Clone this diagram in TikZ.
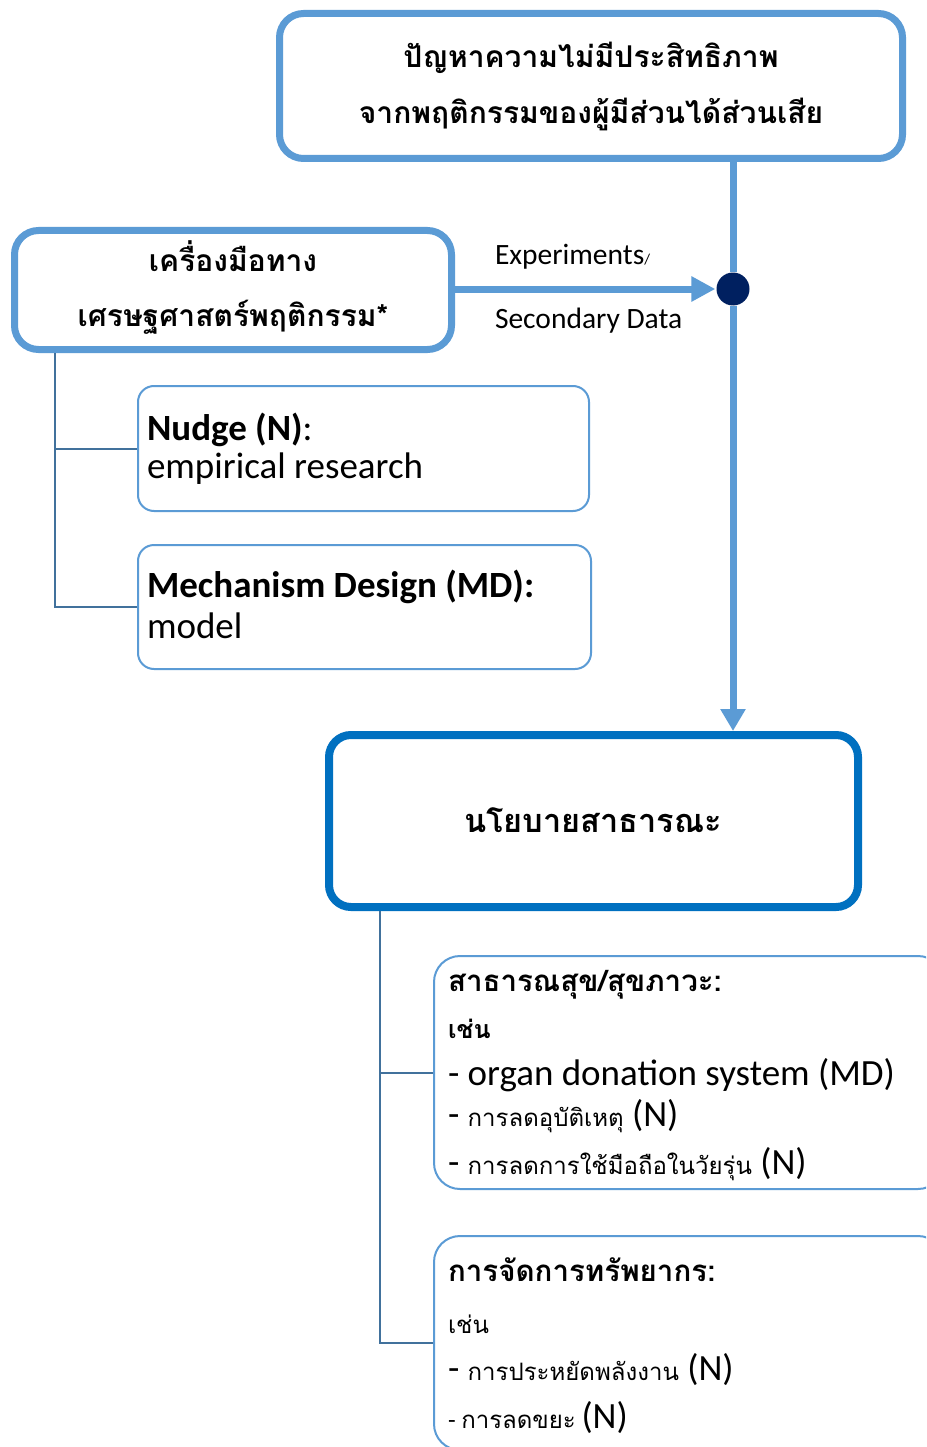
\documentclass[tikz,border=0pt]{standalone}
\usepackage{fontspec}
\setmainfont{Carlito}
\newfontfamily\thai[Script=Thai]{Loma}
\usetikzlibrary{arrows.meta}
\definecolor{lb}{HTML}{5B9BD5}
\definecolor{db}{HTML}{0070C0}
\definecolor{tl}{HTML}{41719C}
\definecolor{nv}{HTML}{002060}
\newcommand\fsz[1]{\fontsize{#1}{#1}\selectfont}
\begin{document}
\begin{tikzpicture}[x=1pt,y=-1pt,
  bigbox/.style={draw=lb, line width=7pt, rounded corners=24pt, fill=white, inner sep=0pt},
  polbox/.style={draw=db, line width=8pt, rounded corners=22pt, fill=white, inner sep=0pt},
  thinbox/.style={draw=lb, line width=2pt, rounded corners=16pt, fill=white, inner sep=0pt},
  listbox/.style={draw=lb, line width=2pt, rounded corners=26pt, fill=white, inner sep=0pt},
  flow/.style={draw=lb, line width=7pt},
  tree/.style={draw=tl, line width=2pt},
  txt/.style={inner sep=0pt, outer sep=0pt, anchor=base west},
  ctxt/.style={inner sep=0pt, outer sep=0pt, anchor=base}]
\useasboundingbox (0,0) rectangle (926,1447);
\clip (0,0) rectangle (926,1447);
\fill[white] (0,0) rectangle (926,1447);

% boxes
\node[bigbox, minimum width=623pt, minimum height=145pt] (top) at (591,86) {};
\node[bigbox, minimum width=437pt, minimum height=119pt] (left) at (233,290) {};
\node[thinbox, minimum width=451pt, minimum height=125pt] (nudge) at (363.5,448.5) {};
\node[thinbox, minimum width=453pt, minimum height=124pt] (md) at (364.5,607) {};
\node[polbox, minimum width=529pt, minimum height=172pt] (pol) at (593.5,821) {};
\node[listbox, minimum width=510pt, minimum height=233pt] (hb) at (689,1072.5) {};
\node[listbox, minimum width=510pt, minimum height=214pt] (rb) at (689,1343) {};

% dot and connectors
\node[circle, fill=nv, inner sep=0pt, minimum size=33pt] (dot) at (733,289) {};
\draw[flow] (top.south -| dot) -- (dot);
\draw[flow, -{Triangle[length=22pt,width=24pt]}] (dot) -- (pol.north -| dot);
\draw[flow, -{Triangle[length=24pt,width=24pt]}, shorten >=1pt] (left.east |- dot) -- (dot.west);
\node[txt, font=\fsz{29.5}] (exp) at (495,264) {Experiments\fsz{15}/};
\node[txt, font=\fsz{29.5}] (sec) at (495,328) {Secondary Data};

% left tree
\coordinate (lt) at (55,353);
\draw[tree] (md.west) -| (lt);
\draw[tree] (nudge.west) -- (nudge.west -| lt);

% bottom tree
\coordinate (pt) at (380,911);
\draw[tree] (rb.west) -| (pt);
\draw[tree] (hb.west) -- (hb.west -| pt);

% texts
\node[ctxt, font=\thai\bfseries\fsz{30}] (t1) at (591,68) {ปัญหาความไม่มีประสิทธิภาพ};
\node[ctxt, font=\thai\bfseries\fsz{30}] (t2) at (591,124) {จากพฤติกรรมของผู้มีส่วนได้ส่วนเสีย};
\node[ctxt, font=\thai\bfseries\fsz{30}] (l1) at (233,272) {เครื่องมือทาง};
\node[ctxt, font=\thai\bfseries\fsz{30}] (l2) at (233,326) {เศรษฐศาสตร์พฤติกรรม*};

\node[txt, font=\fsz{37}] (n1) at (147,440) {\textbf{Nudge (N)}:};
\node[txt, font=\fsz{37}] (n2) at (147,478) {empirical research};
\node[txt, font=\fsz{37}] (m1) at (147,597) {\textbf{Mechanism Design (MD):}};
\node[txt, font=\fsz{37}] (m2) at (147,638) {model};

\node[ctxt, font=\thai\bfseries\fsz{32.5}] (p1) at (593,832) {นโยบายสาธารณะ};

\node[txt, font=\thai\bfseries\fsz{29.5}] (h1) at (448,991) {สาธารณสุข/สุขภาวะ:};
\node[txt, font=\thai\bfseries\fsz{25}] (h2) at (448,1038) {เช่น};
\node[txt, font=\fsz{37}] (h3) at (448,1085) {- organ donation system (MD)};
\node[txt, font=\fsz{37}] (h4) at (448,1126) {- {\thai\fsz{24}การลดอุบัติเหตุ} (N)};
\node[txt, font=\fsz{37}] (h5) at (448,1174) {- {\thai\fsz{24}การลดการใช้มือถือในวัยรุ่น} (N)};

\node[txt, font=\thai\bfseries\fsz{29.5}] (r1) at (448,1281) {การจัดการทรัพยากร:};
\node[txt, font=\thai\fsz{24}] (r2) at (448,1333) {เช่น};
\node[txt, font=\fsz{37}] (r3) at (448,1380) {- {\thai\fsz{24}การประหยัดพลังงาน} (N)};
\node[txt, font=\fsz{25}] (r4) at (448,1428) {- {\thai\fsz{24}การลดขยะ} {\fsz{37}(N)}};
\end{tikzpicture}
\end{document}
